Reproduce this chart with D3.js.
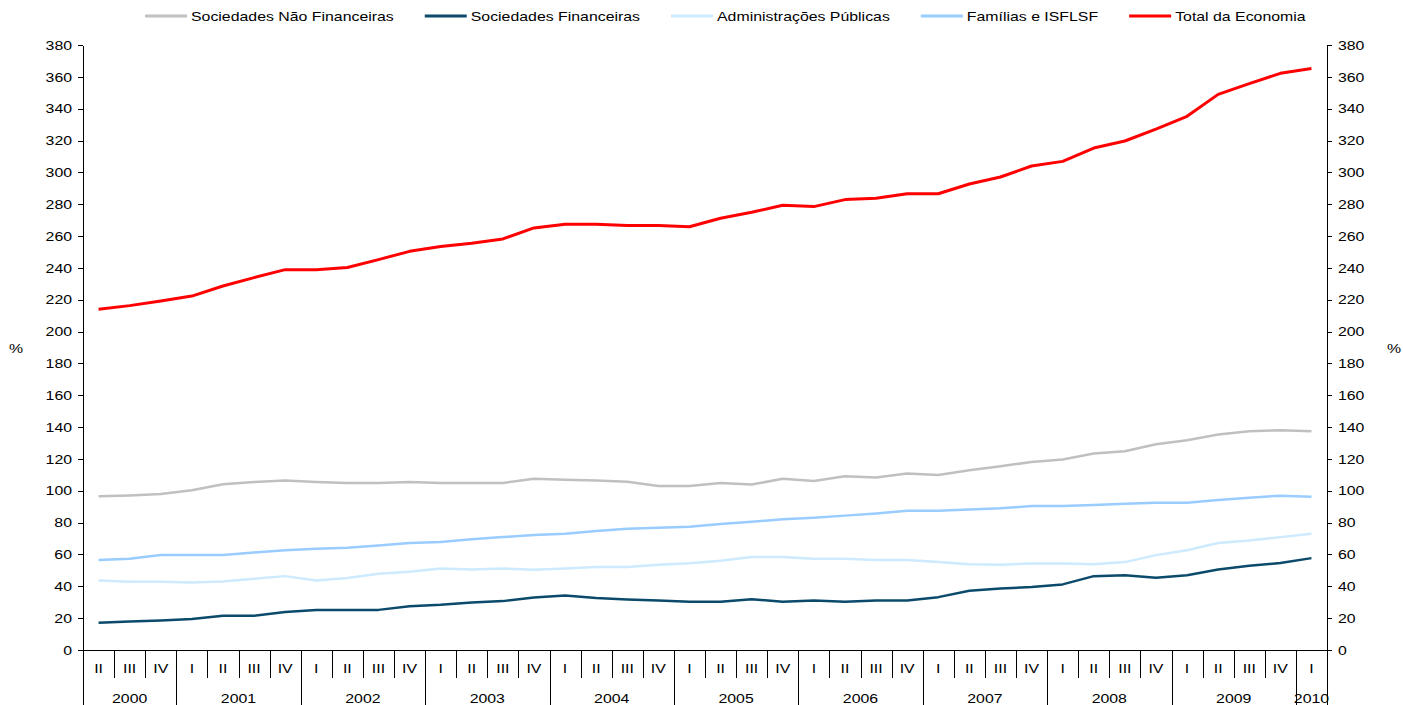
<!DOCTYPE html>
<html>
<head>
<meta charset="utf-8">
<script src="https://cdn.jsdelivr.net/npm/d3@7"></script>
<style>
  body { margin: 0; background: #fff; }
  svg { display: block; font-family: "Liberation Sans", Arial, sans-serif; font-size: 13px; }
  .axis path, .axis line { stroke: #000; shape-rendering: crispEdges; }
  .axis text { fill: #000; font-size: 13px; font-family: "Liberation Sans", Arial, sans-serif; }
  .series { fill: none; stroke-linejoin: round; }
</style>
</head>
<body>
<script>
// quarters from 2000 II to 2010 I
const quarters = ["II","III","IV",
  "I","II","III","IV", "I","II","III","IV", "I","II","III","IV",
  "I","II","III","IV", "I","II","III","IV", "I","II","III","IV",
  "I","II","III","IV", "I","II","III","IV", "I","II","III","IV",
  "I"];
const years = ["2000","2001","2002","2003","2004","2005","2006","2007","2008","2009","2010"];
const quartersPerYear = [3,4,4,4,4,4,4,4,4,4,1];

const yTicks = d3.range(0, 381, 20);

const seriesNames = ["Sociedades Não Financeiras", "Sociedades Financeiras",
  "Administrações Públicas", "Famílias e ISFLSF", "Total da Economia"];
const seriesColors = ["#c0c0c0", "#0b4a6b", "#cdeaff", "#99ccff", "#ff0000"];

const naoFinanceiras = [96.5, 97.1, 98.0, 100.3, 104.1, 105.5, 106.4, 105.5, 104.9, 104.9,
  105.5, 104.9, 104.9, 104.9, 107.6, 107.0, 106.4, 105.7, 103.0, 103.0,
  104.9, 103.9, 107.6, 106.2, 109.1, 108.3, 110.8, 109.9, 112.9, 115.4,
  118.1, 119.6, 123.4, 124.8, 129.2, 131.7, 135.3, 137.4, 138.0, 137.4];
const financeiras = [17.1, 17.9, 18.5, 19.4, 21.5, 21.5, 23.8, 25.2, 25.2, 25.2,
  27.5, 28.4, 29.9, 30.7, 33.0, 34.3, 32.6, 31.7, 31.1, 30.3,
  30.3, 31.9, 30.3, 31.1, 30.3, 31.1, 31.1, 33.2, 37.2, 38.7,
  39.5, 41.2, 46.4, 47.0, 45.4, 47.0, 50.6, 52.9, 54.6, 57.7];
const adminPublicas = [43.7, 42.9, 42.9, 42.4, 43.1, 44.7, 46.4, 43.7, 45.2, 47.9,
  49.1, 51.2, 50.6, 51.2, 50.4, 51.2, 52.1, 52.1, 53.5, 54.5,
  56.0, 58.4, 58.4, 57.3, 57.3, 56.5, 56.5, 55.2, 53.8, 53.5,
  54.4, 54.4, 53.8, 55.2, 59.6, 62.6, 67.2, 68.8, 70.9, 73.0];
const familias = [56.5, 57.3, 59.6, 59.6, 59.6, 61.3, 62.6, 63.6, 64.2, 65.7,
  67.2, 67.8, 69.5, 70.9, 72.2, 73.0, 74.7, 76.2, 76.8, 77.4,
  79.1, 80.6, 82.1, 83.1, 84.4, 85.8, 87.5, 87.5, 88.3, 89.0,
  90.4, 90.4, 91.1, 91.9, 92.5, 92.5, 94.2, 95.7, 96.9, 96.3];
const totalEconomia = [214.0, 216.3, 219.2, 222.3, 228.6, 233.9, 238.9, 238.9, 240.2, 245.2,
  250.4, 253.4, 255.5, 258.2, 265.1, 267.4, 267.4, 266.7, 266.7, 265.8,
  271.2, 274.9, 279.3, 278.5, 282.9, 283.7, 286.6, 286.6, 292.7, 297.1,
  304.0, 306.9, 315.3, 319.7, 327.2, 335.2, 349.0, 355.7, 362.2, 365.3];

const seriesValues = [naoFinanceiras, financeiras, adminPublicas, familias, totalEconomia];

const W = 1403, H = 705;
const SX = 1.22; // the reference text is slightly stretched horizontally
const plot = {left: 83, right: 1327, top: 45, bottom: 650};

const svg = d3.select("body").append("svg")
  .attr("width", W).attr("height", H);

const x = d3.scaleBand()
  .domain(d3.range(quarters.length))
  .range([plot.left, plot.right])
  .padding(0);

const y = d3.scaleLinear()
  .domain([0, 380])
  .range([plot.bottom, plot.top]);

const stext = (g, tx, ty, str, anchor) => g.append("text")
  .attr("transform", `translate(${tx},${ty}) scale(${SX},1)`)
  .attr("text-anchor", anchor || "start")
  .attr("fill", "#000")
  .text(str);

// y axes
const yLeft = svg.append("g").attr("class", "axis")
  .attr("transform", `translate(${plot.left},0)`)
  .call(d3.axisLeft(y).tickValues(yTicks).tickSize(5).tickSizeOuter(0).tickPadding(4));
yLeft.selectAll("text").attr("transform", `scale(${SX},1)`);

const yRight = svg.append("g").attr("class", "axis")
  .attr("transform", `translate(${plot.right},0)`)
  .call(d3.axisRight(y).tickValues(yTicks).tickSize(5).tickSizeOuter(0).tickPadding(4));
yRight.selectAll("text").attr("transform", `scale(${SX},1)`);

stext(svg, 16, 353, "%", "middle");
stext(svg, 1394, 353, "%", "middle");

// category axis: quarters and years
const xa = svg.append("g").attr("class", "axis");
xa.append("line")
  .attr("x1", plot.left).attr("x2", plot.right)
  .attr("y1", plot.bottom).attr("y2", plot.bottom);

const yearStarts = [];
let acc = 0;
quartersPerYear.forEach(n => { yearStarts.push(acc); acc += n; });

d3.range(quarters.length + 1).forEach(i => {
  const xx = i < quarters.length ? x(i) : x(quarters.length - 1) + x.bandwidth();
  const isYear = i === quarters.length || yearStarts.includes(i);
  xa.append("line")
    .attr("x1", Math.round(xx) + 0.5).attr("x2", Math.round(xx) + 0.5)
    .attr("y1", plot.bottom).attr("y2", isYear ? H : 678);
});

quarters.forEach((q, i) => {
  stext(xa, x(i) + x.bandwidth() / 2, 673, q, "middle");
});

years.forEach((yr, k) => {
  const a = x(yearStarts[k]);
  const b = x(yearStarts[k] + quartersPerYear[k] - 1) + x.bandwidth();
  stext(xa, (a + b) / 2, 703, yr, "middle");
});

// series
const line = d3.line()
  .x((d, i) => x(i) + x.bandwidth() / 2)
  .y(d => y(d));

seriesValues.forEach((vals, k) => {
  svg.append("path")
    .attr("class", "series")
    .attr("d", line(vals))
    .attr("stroke", seriesColors[k])
    .attr("stroke-width", k === 4 ? 3 : 2.5);
});

// legend
const leg = svg.append("g");
let lx = 145;
seriesNames.forEach((name, k) => {
  leg.append("line")
    .attr("x1", lx).attr("x2", lx + 42)
    .attr("y1", 16).attr("y2", 16)
    .attr("stroke", seriesColors[k])
    .attr("stroke-width", 3);
  const t = stext(leg, lx + 46, 21, name, "start");
  const w = t.node().getComputedTextLength() * SX;
  lx += 46 + w + 31;
});
</script>
</body>
</html>
